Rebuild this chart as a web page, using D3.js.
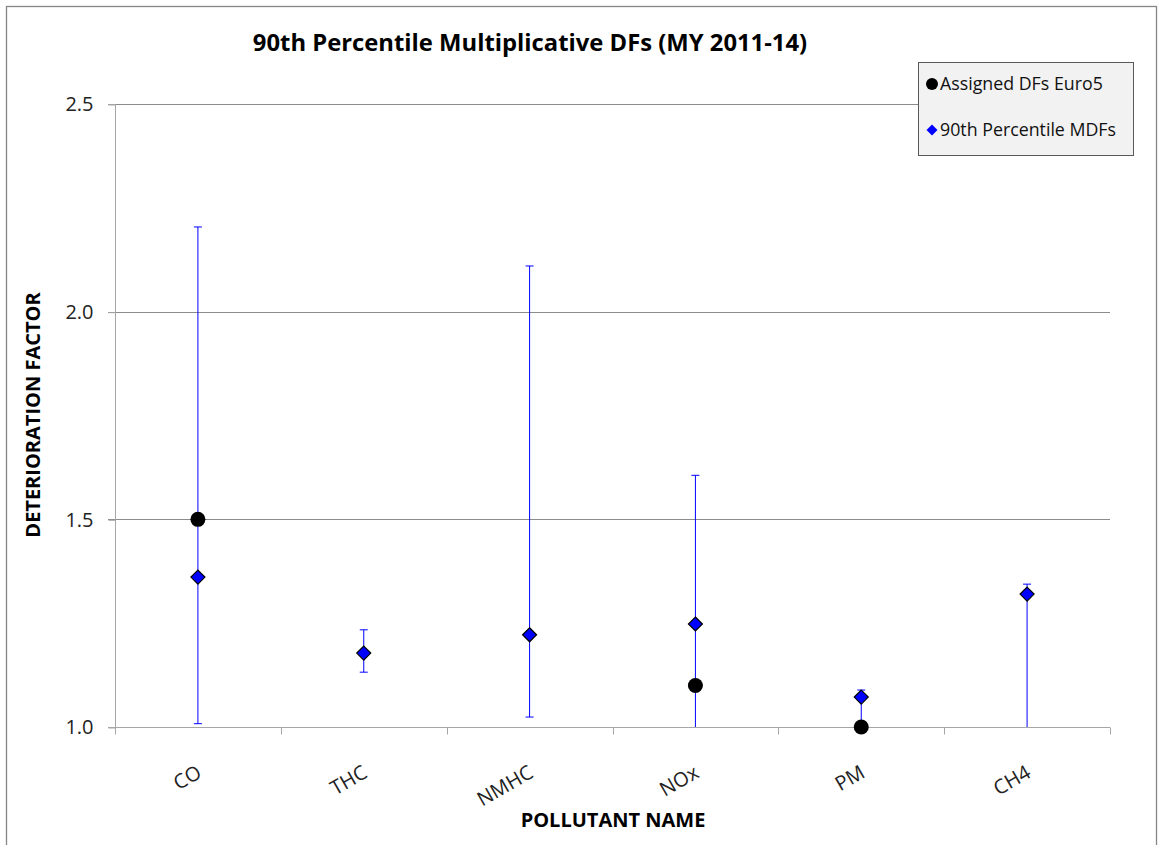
<!DOCTYPE html>
<html><head><meta charset="utf-8">
<script src="https://cdn.jsdelivr.net/npm/d3@7"></script>
<style>html,body{margin:0;padding:0;background:#fff;}svg{display:block;font-family:"Open Sans","Noto Sans",sans-serif;}</style>
</head><body>
<svg id="c" width="1159" height="845"></svg>
<script>
const categories = ["CO","THC","NMHC","NOx","PM","CH4"];
const assignedDFs = [1.5, null, null, 1.1, 1.0, null];
const mdf90 = [1.361, 1.178, 1.222, 1.248, 1.072, 1.320];
const errLow = [1.008, 1.132, 1.024, 0.9, 0.9, 0.9];
const errHigh = [2.204, 1.234, 2.110, 1.606, 1.089, 1.344];
const yTicks = [1.0, 1.5, 2.0, 2.5];
const titleText = "90th Percentile Multiplicative DFs (MY 2011-14)";
const xTitle = "POLLUTANT NAME";
const yTitle = "DETERIORATION FACTOR";
const legendLabels = ["Assigned DFs Euro5", "90th Percentile MDFs"];

const svg = d3.select("#c");
const L = 115, R = 1110, T = 104, B = 727;

svg.append("rect").attr("x",6.5).attr("y",6.5).attr("width",1150).attr("height",860)
  .attr("fill","#fff").attr("stroke","#868686").attr("stroke-width",1.3);

const x = d3.scaleBand().domain(categories).range([L,R]).padding(0);
const y = d3.scaleLinear().domain([1.0,2.5]).range([B,T]);

// gridlines
svg.append("g").selectAll("line").data(yTicks.slice(1)).join("line")
  .attr("x1",L-7).attr("x2",R).attr("y1",d=>Math.round(y(d))+0.5).attr("y2",d=>Math.round(y(d))+0.5)
  .attr("stroke","#8c8c8c").attr("stroke-width",1);

// y axis
const yAxis = d3.axisLeft(y).tickValues(yTicks).tickFormat(d3.format(".1f")).tickSize(7).tickPadding(15);
const gy = svg.append("g").attr("transform",`translate(${L+0.5},0.5)`).call(yAxis);
gy.select(".domain").attr("stroke","#a6a6a6").attr("d",`M-7,${T}H0V${B}`);
gy.selectAll(".tick line").attr("stroke","#a6a6a6");
gy.selectAll(".tick text").attr("font-size",20).attr("fill","#222").attr("font-family","Open Sans");

// x axis
const gx = svg.append("g").attr("transform",`translate(0,${B+0.5})`);
gx.append("line").attr("x1",L-7).attr("x2",R).attr("stroke","#a6a6a6");
const bounds = categories.map((c,i)=>x(c)).concat([R]);
gx.selectAll("line.t").data(bounds).join("line").attr("class","t")
  .attr("x1",d=>Math.round(d)+0.5).attr("x2",d=>Math.round(d)+0.5).attr("y1",0).attr("y2",7).attr("stroke","#a6a6a6");
gx.selectAll("text").data(categories).join("text")
  .attr("transform",d=>`translate(${x(d)+x.bandwidth()/2+5},${49}) rotate(-30)`)
  .attr("text-anchor","end").attr("font-size",20).attr("fill","#222").text(d=>d);

// clip for plot
svg.append("clipPath").attr("id","pc").append("rect").attr("x",L).attr("y",T-20).attr("width",R-L).attr("height",B-T+20);
const plot = svg.append("g").attr("clip-path","url(#pc)");

// error bars
categories.forEach((c,i)=>{
  const cx = x(c)+x.bandwidth()/2;
  const g = plot.append("g");
  g.append("line").attr("x1",cx).attr("x2",cx).attr("y1",y(errLow[i])).attr("y2",y(errHigh[i]))
    .attr("stroke","#0000ff").attr("stroke-width",1);
  [errLow[i],errHigh[i]].forEach(v=>{
    g.append("line").attr("x1",cx-4).attr("x2",cx+4).attr("y1",y(v)).attr("y2",y(v))
      .attr("stroke","#0000ff").attr("stroke-width",1);
  });
});

// assigned DFs circles
categories.forEach((c,i)=>{
  if(assignedDFs[i]==null) return;
  svg.append("circle").attr("cx",x(c)+x.bandwidth()/2).attr("cy",y(assignedDFs[i])).attr("r",7.5).attr("fill","#000");
});
// diamonds
categories.forEach((c,i)=>{
  svg.append("path").attr("d","M0,-7L7,0L0,7L-7,0Z")
    .attr("transform",`translate(${x(c)+x.bandwidth()/2},${y(mdf90[i])})`)
    .attr("fill","#0000ff").attr("stroke","#000").attr("stroke-width",1.2);
});

// title
svg.append("text").attr("x",530).attr("y",51).attr("text-anchor","middle").attr("font-weight","bold")
  .attr("font-size",23.8).attr("fill","#000").text(titleText);
// axis titles
svg.append("text").attr("x",613).attr("y",827).attr("text-anchor","middle").attr("font-weight","bold")
  .attr("font-size",20).attr("fill","#000").text(xTitle);
svg.append("text").attr("transform","translate(40,415) rotate(-90)").attr("text-anchor","middle").attr("font-weight","bold")
  .attr("font-size",20).attr("fill","#000").text(yTitle);

// legend
const lg = svg.append("g");
lg.append("rect").attr("x",918.5).attr("y",62.5).attr("width",215).attr("height",93)
  .attr("fill","#f2f2f2").attr("stroke","#595959").attr("stroke-width",1);
lg.append("circle").attr("cx",932).attr("cy",84).attr("r",6).attr("fill","#000");
lg.append("path").attr("d","M0,-5.5L5.5,0L0,5.5L-5.5,0Z").attr("transform","translate(932,130)").attr("fill","#0000ff");
lg.append("text").attr("x",940).attr("y",90).attr("font-size",17.8).attr("fill","#111").text(legendLabels[0]);
lg.append("text").attr("x",940).attr("y",136).attr("font-size",17.8).attr("fill","#111").text(legendLabels[1]);
</script>
</body></html>
